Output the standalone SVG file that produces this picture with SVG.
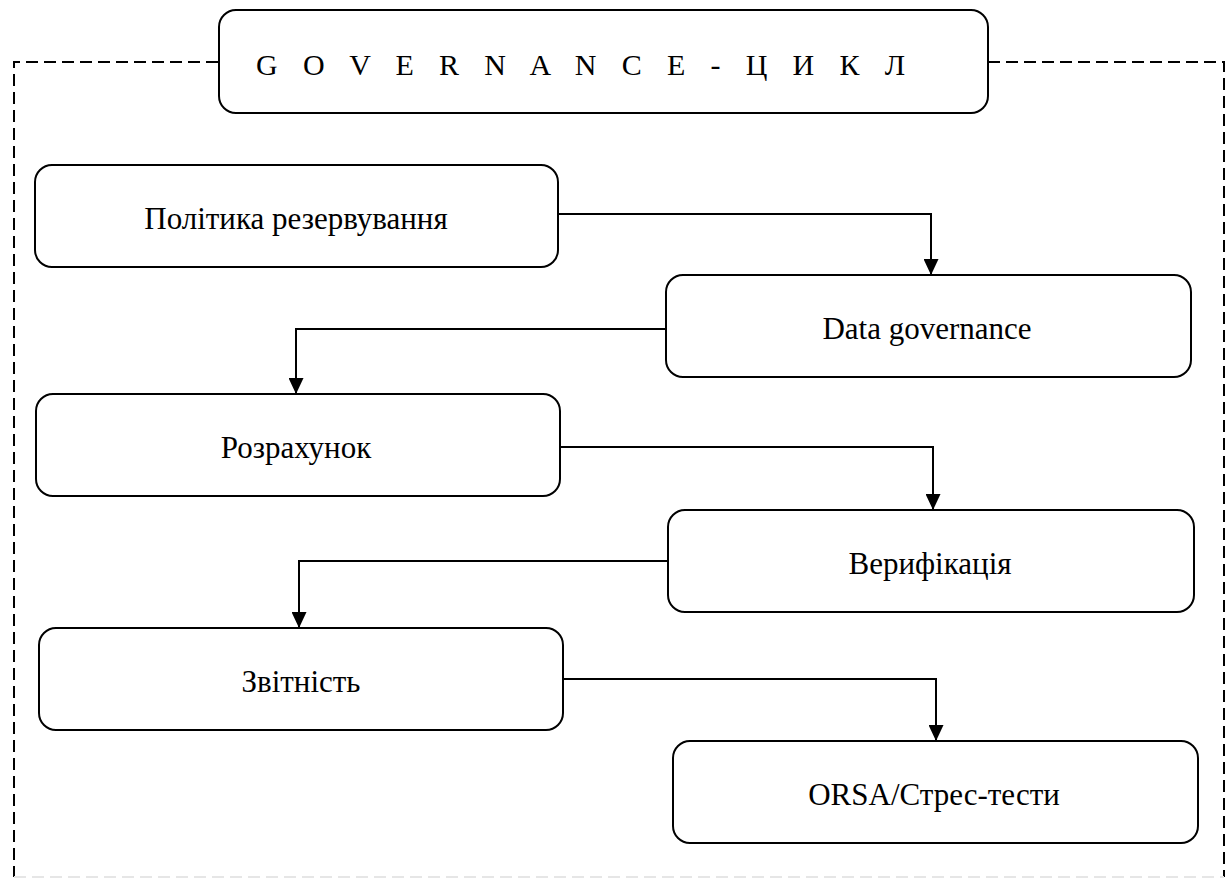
<svg xmlns="http://www.w3.org/2000/svg" width="1230" height="879" viewBox="0 0 1230 879">
<defs>
<style>
.node rect{fill:#fff;stroke:#000;stroke-width:2}
.node text{font-family:"Liberation Serif","Times New Roman",serif;font-size:31px;fill:#000;text-anchor:middle}
.conn path{fill:none;stroke:#000;stroke-width:2}
.frame{fill:none;stroke:#000;stroke-width:2;stroke-dasharray:12 6}
</style>
<marker id="arr" viewBox="0 0 16 15" refX="16" refY="7.5" markerWidth="16" markerHeight="15" markerUnits="userSpaceOnUse" orient="auto">
<path d="M0,0 L16,7.5 L0,15 Z" fill="#000"/>
</marker>
</defs>
<rect width="1230" height="879" fill="#fff"/>
<g id="frame">
<path class="frame" d="M218,62 H14 V877"/>
<path class="frame" d="M988,62 H1224 V877"/>
<path d="M14,877 H1224" fill="none" stroke="#e6e6e6" stroke-width="2" stroke-dasharray="12 6"/>
</g>
<g id="title" class="node">
<rect x="219" y="10" width="769" height="103" rx="17"/>
<text x="256" y="75" style="text-anchor:start;font-size:30px" textLength="649" lengthAdjust="spacing">G O V E R N A N C E - Ц И К Л</text>
</g>
<g id="connectors" class="conn">
<path d="M558,214 H931 V275" marker-end="url(#arr)"/>
<path d="M666,329 H296 V394" marker-end="url(#arr)"/>
<path d="M560,447 H933 V510" marker-end="url(#arr)"/>
<path d="M668,561 H299 V628" marker-end="url(#arr)"/>
<path d="M563,679 H936 V741" marker-end="url(#arr)"/>
</g>
<g id="n1" class="node">
<rect x="35" y="165" width="523" height="102" rx="17"/>
<text x="296" y="229">Політика резервування</text>
</g>
<g id="n2" class="node">
<rect x="666" y="275" width="525" height="102" rx="17"/>
<text x="927" y="339">Data governance</text>
</g>
<g id="n3" class="node">
<rect x="36" y="394" width="524" height="102" rx="17"/>
<text x="296" y="458">Розрахунок</text>
</g>
<g id="n4" class="node">
<rect x="668" y="510" width="526" height="102" rx="17"/>
<text x="930" y="574">Верифікація</text>
</g>
<g id="n5" class="node">
<rect x="39" y="628" width="524" height="102" rx="17"/>
<text x="301" y="692">Звітність</text>
</g>
<g id="n6" class="node">
<rect x="673" y="741" width="525" height="102" rx="17"/>
<text x="934" y="805">ORSA/Стрес-тести</text>
</g>
</svg>
